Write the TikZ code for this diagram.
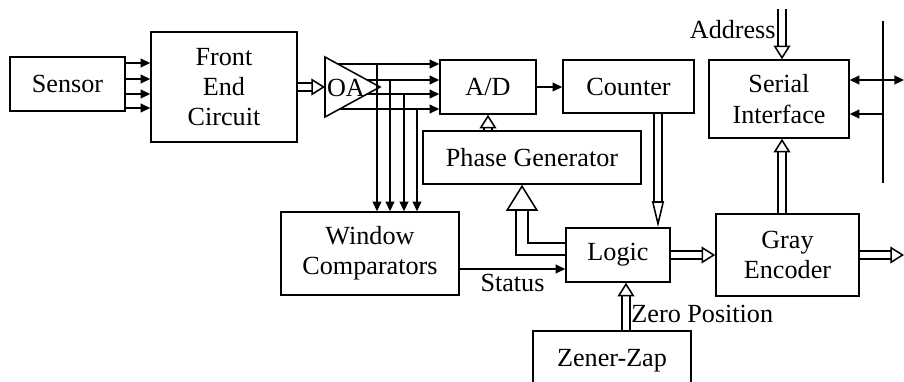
\documentclass[tikz,border=0pt]{standalone}
\usepackage{fontspec}
\setmainfont{Liberation Serif}
\usetikzlibrary{arrows.meta, calc}

\begin{document}
\begin{tikzpicture}[
    x=0.025cm, y=-0.025cm, line width=1.1pt,
    every node/.style={font=\fontsize{18.6}{21.6}\selectfont},
    block/.style={rectangle, draw=black, line width=1.1pt, inner sep=1pt, align=center},
    arr/.style={-{Triangle[length=0.24cm, width=0.22cm]}},
    hollow/.style={double, double distance=0.15cm, -{Triangle[fill=white, length=0.34cm, width=0.42cm]}},
    slender/.style={-{Triangle[fill=white, length=0.65cm, width=0.3cm]}},
    bighead/.style={double distance=0.25cm, -{Triangle[fill=white, length=0.65cm, width=0.8cm]}}
]
\useasboundingbox (0,0) rectangle (904,382);

% Blocks
\node[block, minimum width=2.875cm, minimum height=1.35cm] (sensor)   at (67.5,84)  {Sensor};
\node[block, minimum width=3.65cm,  minimum height=2.75cm] (frontend) at (224,87)   {Front\\End\\Circuit};
\node[block, minimum width=2.4cm,   minimum height=1.35cm] (ad)       at (488,87)   {A/D};
\node[block, minimum width=3.275cm, minimum height=1.325cm] (counter) at (628.5,86.5) {Counter};
\node[block, minimum width=3.5cm,   minimum height=1.95cm] (serial)   at (779,99)   {Serial\\Interface};
\node[block, minimum width=5.45cm,  minimum height=1.325cm] (phase)   at (532,157.5) {Phase Generator};
\node[block, minimum width=4.45cm,  minimum height=2.075cm] (window)  at (370,253.5) {Window\\Comparators};
\node[block, minimum width=2.6cm,   minimum height=1.35cm] (logic)    at (618,255)  {Logic};
\node[block, minimum width=3.575cm, minimum height=2.05cm] (gray)     at (787.5,255) {Gray\\Encoder};
\node[block, minimum width=3.95cm,  minimum height=1.5cm, anchor=north] (zener) at (612,330) {Zener-Zap};

% Amplifier triangle
\coordinate (oaTop) at (325,57);
\coordinate (oaBot) at (325,117);
\coordinate (oaTip) at (380,87);
\draw (oaTop) -- (oaTip) -- (oaBot) -- cycle;
\node[inner sep=0pt] (oa) at (346,88) {OA};

% Sensor bundle
\draw[arr] (sensor.east |- 0,63)  -- (frontend.west |- 0,63);
\draw[arr] (sensor.east |- 0,79)  -- (frontend.west |- 0,79);
\draw[arr] (sensor.east |- 0,94)  -- (frontend.west |- 0,94);
\draw[arr] (sensor.east |- 0,108) -- (frontend.west |- 0,108);
\draw[hollow] (frontend.east) -- (frontend.east -| oaTop);

% Amplifier outputs to A/D and window comparators
\coordinate (o1) at (338,64);
\coordinate (o2) at (367,80);
\coordinate (o3) at (367,94);
\coordinate (o4) at (340,109);
\draw[arr] (o1) -- (ad.west |- o1);
\draw[arr] (o2) -- (ad.west |- o2);
\draw[arr] (o3) -- (ad.west |- o3);
\draw[arr] (o4) -- (ad.west |- o4);
\draw[arr] (o1 -| 377,0) -- (window.north -| 377,0);
\draw[arr] (o2 -| 390,0) -- (window.north -| 390,0);
\draw[arr] (o3 -| 404,0) -- (window.north -| 404,0);
\draw[arr] (o4 -| 417,0) -- (window.north -| 417,0);

% Conversion chain
\draw[arr] (ad.east) -- (ad.east -| counter.west);
\draw[hollow] (phase.north -| ad.south) -- (ad.south);
\draw[hollow, slender] (counter.south -| 658,0) -- (logic.north -| 658,0);
\draw[hollow, bighead] (logic.west |- 0,249) -| (phase.south -| 522,0);
\draw[arr] (window.east |- 0,269) -- node[below, inner sep=3pt] {Status} (logic.west |- 0,269);
\draw[hollow] (zener.north -| 626,0) -- node[right, pos=0.35] {Zero Position} (logic.south -| 626,0);

% Encoder and serial side
\coordinate (grayOut) at (904,255);
\coordinate (addrIn) at (782,9);
\draw[hollow] (logic.east) -- (gray.west);
\draw[hollow] (gray.east) -- (grayOut);
\draw[hollow] (gray.north -| 782,0) -- (serial.south -| 782,0);
\draw[hollow] (addrIn) -- node[left, pos=0.4, inner sep=4pt] {Address} (serial.north -| addrIn);

% Bus
\coordinate (busTop) at (883,21);
\coordinate (busBot) at (883,183);
\coordinate (ioEnd) at (904,80);
\draw (busTop) -- (busBot);
\draw[{Triangle[length=0.24cm, width=0.22cm]}-{Triangle[length=0.24cm, width=0.22cm]}] (serial.east |- ioEnd) -- (ioEnd);
\draw[arr] (busTop |- 0,114) -- (serial.east |- 0,114);

\end{tikzpicture}
\end{document}
